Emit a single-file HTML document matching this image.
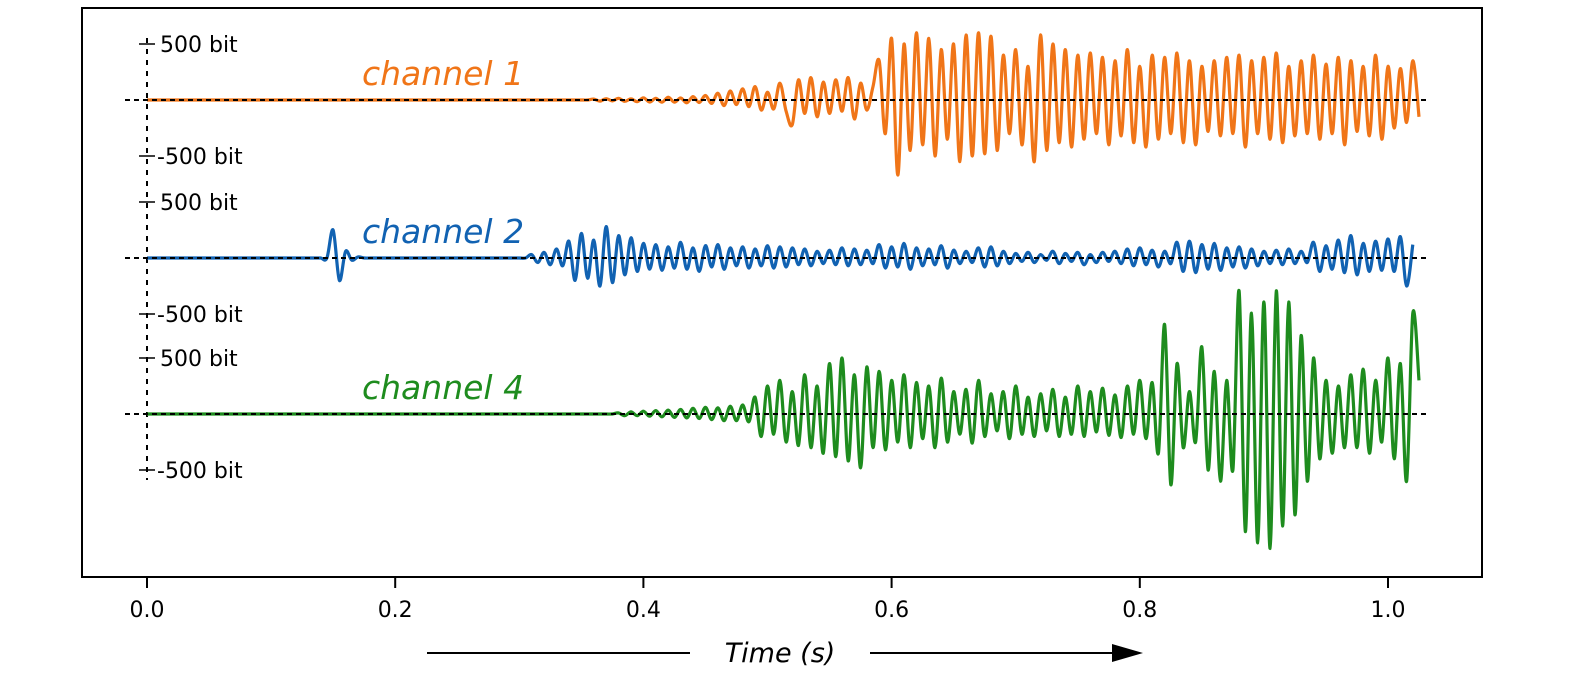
<!DOCTYPE html>
<html><head><meta charset="utf-8"><style>
html,body{margin:0;padding:0;background:#fff}
svg{display:block}
text{font-family:"DejaVu Sans","Liberation Sans",sans-serif}
</style></head><body>
<svg id="chart" width="1569" height="675" viewBox="0 0 1569 675">
<rect x="82" y="8" width="1400" height="569" fill="none" stroke="#000" stroke-width="2"/>
<g id="axes"></g>
<g id="series"></g>
<g>
<line x1="427" y1="653" x2="690" y2="653" stroke="#000" stroke-width="2"/>
<line x1="870" y1="653" x2="1120" y2="653" stroke="#000" stroke-width="2"/>
<polygon points="1143,653 1112,644 1112,662" fill="#000"/>
<text x="780" y="662" font-size="27" font-style="italic" text-anchor="middle">Time (s)</text>
</g>
</svg>
<script>
const dt = 0.005;
const xTicks = [0.0, 0.2, 0.4, 0.6, 0.8, 1.0];
const xTickLabels = ["0.0", "0.2", "0.4", "0.6", "0.8", "1.0"];
const channelNames = ["channel 1", "channel 2", "channel 4"];
const ch1 = [0,0,0,0,0,0,0,0,0,0,0,0,0,0,0,0,0,0,0,0,0,0,0,0,0,0,0,0,0,0,0,0,0,0,0,0,0,0,0,0,0,0,0,0,0,0,0,0,0,0,0,0,0,0,0,0,0,0,0,0,0,0,0,0,0,0,0,0,0,0,0,0,
8,-10,12,-8,15,-12,10,-15,20,-18,15,-20,25,-20,18,-25,30,-22,
40,-30,60,-50,80,-40,100,-60,120,-90,70,-80,150,-100,
-220,180,-120,200,-150,160,-120,180,-100,200,-170,150,-90,120,
350,-300,550,-670,500,-450,600,-400,550,-500,450,-350,500,-550,580,-500,600,-480,570,-450,400,-300,450,-400,300,-550,580,-450,500,-380,450,-420,400,
-350,420,-300,380,-400,350,-320,450,-380,300,-420,400,-350,380,-300,420,-380,350,-400,300,-280,350,-320,380,-300,400,-420,350,-300,380,-350,420,-380,300,-320,350,-300,400,-350,320,-300,380,-400,350,-280,300,-320,400,-350,300,-250,280,-200,350,-150];
const ch2 = [0,0,0,0,0,0,0,0,0,0,0,0,0,0,0,0,0,0,0,0,0,0,0,0,0,0,0,0,0,0,
250,-200,60,-20,10,0,0,0,0,0,0,0,0,0,0,0,0,0,0,0,0,0,0,0,0,0,0,0,0,0,0,0,
30,-40,50,-60,80,-70,150,-200,220,-180,160,-250,280,-220,200,-150,180,-120,
130,-100,120,-110,100,-90,140,-100,90,-120,110,-80,120,-100,90,-70,100,-90,80,-70,110,-90,100,-80,90,-60,80,-70,60,-50,70,-60,90,-70,80,-60,70,-50,
120,-90,100,-80,130,-100,90,-70,80,-60,110,-90,70,-50,60,-40,90,-80,100,-70,60,-50,40,-30,50,-40,30,-20,60,-50,40,-30,50,-60,30,-40,50,-30,
60,-50,80,-70,90,-60,70,-80,60,-50,140,-120,150,-130,120,-100,130,-110,90,-80,100,-90,80,-70,60,-50,70,-60,80,-50,60,-40,
140,-120,110,-100,160,-130,200,-150,130,-120,150,-110,170,-120,190,-250,120];
const ch4 = [0,0,0,0,0,0,0,0,0,0,0,0,0,0,0,0,0,0,0,0,0,0,0,0,0,0,0,0,0,0,0,0,0,0,0,0,0,0,0,0,0,0,0,0,0,0,0,0,0,0,0,0,0,0,0,0,0,0,0,0,0,0,0,0,0,0,0,0,0,0,0,0,0,0,0,0,
10,-15,20,-15,25,-20,30,-25,35,-30,40,-35,50,-40,60,-50,55,-60,70,-60,80,-70,
150,-200,250,-180,300,-250,200,-280,350,-300,250,-350,450,-380,500,-420,350,-480,420,-300,
380,-320,300,-250,350,-300,280,-220,250,-300,320,-250,200,-180,220,-260,300,-200,180,-150,200,-220,250,-180,150,-200,
180,-150,220,-200,150,-180,250,-200,200,-160,230,-190,170,-210,
250,-180,300,-220,280,-350,800,-630,450,-300,200,-250,600,-500,380,-600,300,-500,
1100,-1050,900,-1150,1000,-1200,1100,-1000,1000,-900,700,-600,500,-400,300,-350,250,-300,
350,-300,400,-350,300,-250,500,-400,450,-600,900,300];
const bases = [100, 258, 414];
const colors = ["#f07518", "#1162b2", "#1e8c1e"];
const chData = [ch1, ch2, ch4];
const ns = "http://www.w3.org/2000/svg";
const xs = t => 147 + t * 1241;
const ys = (v, b) => b - v * 0.112;
const axes = document.getElementById("axes");
const series = document.getElementById("series");
function mk(tag, attrs, parent) {
  const e = document.createElementNS(ns, tag);
  for (const k in attrs) e.setAttribute(k, attrs[k]);
  parent.appendChild(e);
  return e;
}
xTicks.forEach((t, i) => {
  const l = mk("line", {x1: xs(t), x2: xs(t), y1: 577, y2: 588, stroke: "#000", "stroke-width": 2}, axes);
  
  
  const tx = mk("text", {x: xs(t), y: 617, "font-size": 22, "text-anchor": "middle"}, axes);
  tx.textContent = xTickLabels[i];
  
  
});
const vd = mk("line", {x1: 147, x2: 147, y1: 38, y2: 480, stroke: "#000", "stroke-width": 2, "stroke-dasharray": "5,6"}, axes);


bases.forEach((b, c) => {
  [500, -500].forEach(v => {
    const y = ys(v, b);
    const h = mk("line", {x1: 139, x2: 155, y1: y, y2: y, stroke: "#000", "stroke-width": 1.5}, axes);
    
    
    const lb = mk("text", {x: v > 0 ? 160 : 157, y: y + 8, "font-size": 22}, axes);
    lb.textContent = (v > 0 ? "500" : "-500") + " bit";
    
    
  });
  const d = chData[c];
  const pts = d.map((v, i) => [xs(i * dt), ys(v, b)]);
  let p = "M" + pts[0][0].toFixed(1) + "," + pts[0][1].toFixed(1);
  for (let i = 0; i < pts.length - 1; i++) {
    const p0 = pts[Math.max(0, i - 1)], p1 = pts[i], p2 = pts[i + 1], p3 = pts[Math.min(pts.length - 1, i + 2)];
    const c1x = p1[0] + (p2[0] - p0[0]) / 6, c1y = p1[1] + (p2[1] - p0[1]) / 6;
    const c2x = p2[0] - (p3[0] - p1[0]) / 6, c2y = p2[1] - (p3[1] - p1[1]) / 6;
    p += "C" + c1x.toFixed(1) + "," + c1y.toFixed(1) + " " + c2x.toFixed(1) + "," + c2y.toFixed(1) + " " + p2[0].toFixed(1) + "," + p2[1].toFixed(1);
  }
  const path = mk("path", {d: p, fill: "none", stroke: colors[c], "stroke-width": 3.2, "stroke-linejoin": "round"}, series);
  
  
  const bl = mk("line", {x1: 125, x2: 1428, y1: b, y2: b, stroke: "#000", "stroke-width": 2, "stroke-dasharray": "5,4"}, series);
  
  
  const name = mk("text", {x: 362, y: b - 15, "font-size": 33, "font-style": "italic", fill: colors[c]}, series);
  name.textContent = channelNames[c];
  
  
});
</script>
</body></html>
